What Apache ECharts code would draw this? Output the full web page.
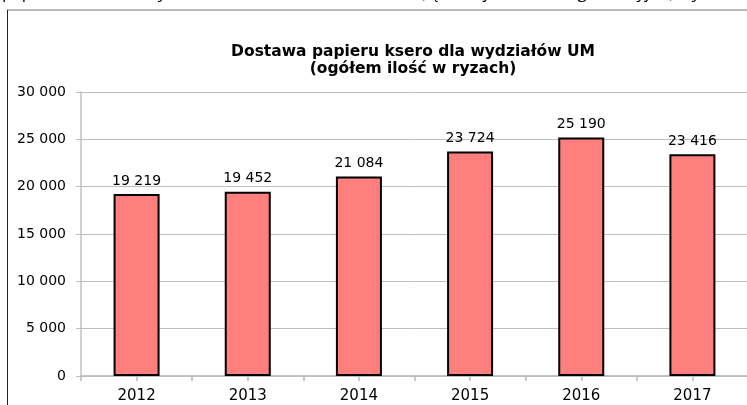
<!DOCTYPE html>
<html>
<head>
<meta charset="utf-8">
<script src="https://cdn.jsdelivr.net/npm/echarts@6/dist/echarts.min.js"></script>
<style>
  html, body { margin: 0; padding: 0; background: #fff; }
  #chart { width: 747px; height: 405px; }
</style>
</head>
<body>
<div id="chart"></div>
<script>
var years = ['2012', '2013', '2014', '2015', '2016', '2017'];
var reams = [19219, 19452, 21084, 23724, 25190, 23416];
var titleLines = ['Dostawa papieru ksero dla wydziałów UM', '(ogółem ilość w ryzach)'];
var pageTextAbove = 'papieru ksero dla wydziałów UM w latach 2012-2017 (łącznie jednostki organizacyjne) wynosiła';

// 19219 -> "19 219"
function spaced(v) {
	return String(v).replace(/\B(?=(\d{3})+(?!\d))/g, ' ');
}

var chart = echarts.init(document.getElementById('chart'), null, { renderer: 'canvas' });

var plotBox = { left: 81, right: -1, top: 92, bottom: 29, containLabel: false, outerBoundsMode: 'none' };

var option = {
	animation: false,
	backgroundColor: '#fff',
	title: {
		text: titleLines.join('\n'),
		left: 408,
		top: 38,
		textAlign: 'center',
		textStyle: {
			fontFamily: 'DejaVu Sans',
			fontSize: 15.5,
			fontWeight: 'bold',
			color: '#000',
			lineHeight: 17
		}
	},
	// second grid sits on top of the first, only to draw the ticks under the bar centres
	grid: [plotBox, Object.assign({}, plotBox)],
	xAxis: [{
		type: 'category',
		data: years,
		gridIndex: 0,
		axisLine: { lineStyle: { color: '#c0c0c0', width: 1.5 } },
		axisTick: { show: true, interval: 0, length: 5, lineStyle: { color: '#b8b8b8', width: 1.5 } },
		axisLabel: {
			color: '#000',
			fontFamily: 'DejaVu Sans',
			fontSize: 15,
			margin: 13
		}
	}, {
		type: 'category',
		data: years,
		gridIndex: 1,
		position: 'bottom',
		axisLine: { show: true, onZero: false, lineStyle: { color: '#c0c0c0', width: 1.5 } },
		axisLabel: { show: false },
		axisTick: { show: true, alignWithLabel: true, interval: 0, length: 5, lineStyle: { color: '#b8b8b8', width: 1.5 } }
	}],
	yAxis: [{
		type: 'value',
		gridIndex: 0,
		min: 0,
		max: 30000,
		interval: 5000,
		axisLine: { show: true, lineStyle: { color: '#c0c0c0', width: 1.5 } },
		axisTick: { show: true, length: 5, lineStyle: { color: '#c0c0c0' } },
		splitLine: { lineStyle: { color: '#bfbfbf', width: 1 } },
		axisLabel: {
			color: '#000',
			fontFamily: 'DejaVu Sans',
			fontSize: 14,
			margin: 15,
			formatter: function (v) { return spaced(v); }
		}
	}, {
		type: 'value',
		gridIndex: 1,
		min: 0,
		max: 30000,
		show: false
	}],
	series: [{
		type: 'bar',
		xAxisIndex: 0,
		yAxisIndex: 0,
		data: reams,
		barWidth: 46,
		itemStyle: { color: '#ff7f7f', borderColor: '#000', borderWidth: 2 },
		label: {
			show: true,
			position: 'top',
			distance: 6,
			color: '#000',
			fontFamily: 'DejaVu Sans',
			fontSize: 14,
			formatter: function (p) { return spaced(p.value); }
		}
	}],
	graphic: [
		{
			type: 'line',
			shape: { x1: 7, y1: 10, x2: 747, y2: 10 },
			style: { stroke: '#777', lineWidth: 1 }
		}, {
			type: 'line',
			shape: { x1: 7.5, y1: 10, x2: 7.5, y2: 405 },
			style: { stroke: '#222', lineWidth: 1 }
		}, {
			type: 'text',
			left: 2,
			top: -15,
			style: {
				text: pageTextAbove,
				fill: '#000',
				font: '17px "Open Sans"'
			}
		}
	]
};

chart.setOption(option);
</script>
</body>
</html>
